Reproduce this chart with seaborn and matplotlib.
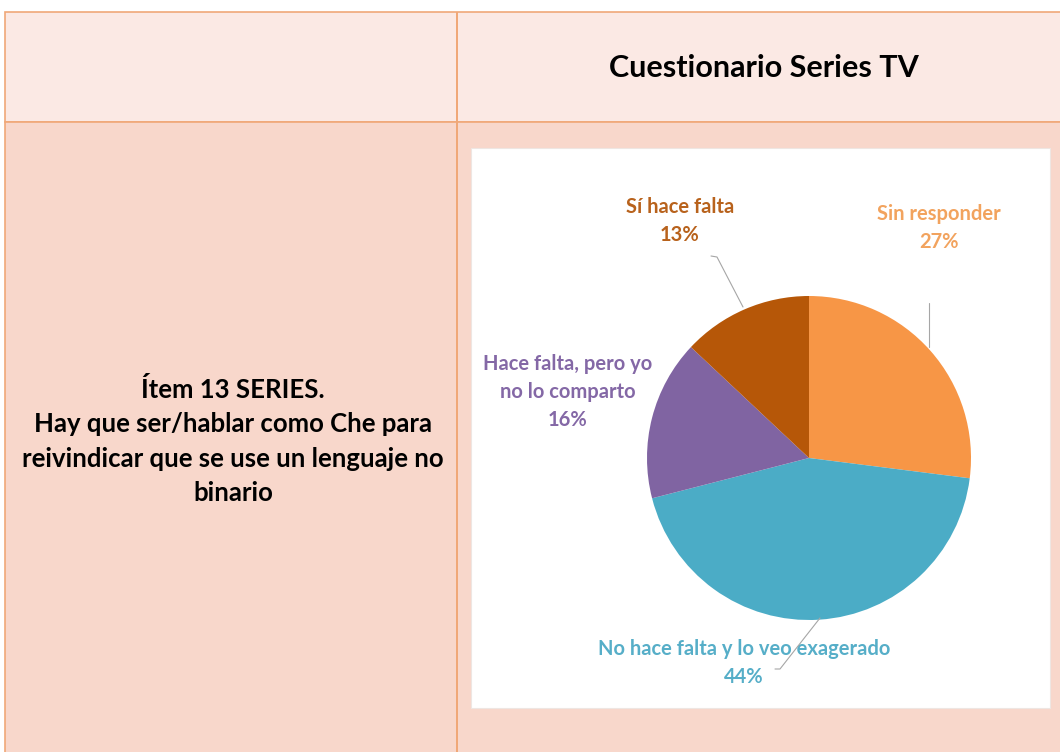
import matplotlib
matplotlib.use("Agg")
import matplotlib.pyplot as plt
from matplotlib.patches import Rectangle
import seaborn as sns

# ---- data ----
categories = ["Sin responder", "No hace falta y lo veo exagerado",
              "Hace falta, pero yo no lo comparto", "Sí hace falta"]
values = [27, 44, 16, 13]
label_lines = ["Sin responder", "No hace falta y lo veo exagerado",
               "Hace falta, pero yo\nno lo comparto", "Sí hace falta"]
title_text = "Cuestionario Series TV"
item_text = ("Ítem 13 SERIES.\nHay que ser/hablar como Che para\n"
             "reivindicar que se use un lenguaje no\nbinario")

# ---- styles ----
slice_colors = ["#F79646", "#4BACC6", "#8064A2", "#B65708"]
label_colors = ["#F2A35E", "#56AEC8", "#8468A6", "#B8621C"]
header_bg = "#FBE9E4"
body_bg = "#F8D7CB"
border = "#F0A878"

sns.set_style("white")
plt.rcParams["font.family"] = ["Lato", "DejaVu Sans"]

W, H = 1060, 752
fig = plt.figure(figsize=(W / 100, H / 100), dpi=100)
fig.patch.set_facecolor("white")

def prect(x0, y0, x1, y1, **kw):
    # pixel coords from top-left
    r = Rectangle((x0 / W, 1 - y1 / H), (x1 - x0) / W, (y1 - y0) / H,
                  transform=fig.transFigure, zorder=-10, **kw)
    fig.patches.append(r)

# table cells
prect(5, 12, 1062, 122, facecolor=header_bg, edgecolor=border, lw=1.2)
prect(5, 122, 1062, 760, facecolor=body_bg, edgecolor=border, lw=1.2)
prect(456.5, 12, 456.5, 760, facecolor="none", edgecolor=border, lw=1.2)
# white chart area
prect(471, 148, 1050, 708, facecolor="white", edgecolor="#EEE6E2", lw=0.8)

fig.text(764 / W, 1 - 68 / H, title_text, ha="center", va="center",
         fontsize=22, fontweight="bold", color="black")
fig.text(233 / W, 1 - 441 / H, item_text, ha="center", va="center",
         fontsize=18.5, fontweight="bold", color="black", linespacing=1.52)

# pie axes: center (809,458) px, radius 162 px
cx, cy, R = 809, 458, 162
half = 200
ax = fig.add_axes([(cx - half) / W, 1 - (cy + half) / H, 2 * half / W, 2 * half / H])
ax.patch.set_alpha(0)

ax.pie(values, colors=slice_colors, startangle=90, counterclock=False,
       radius=1.0, wedgeprops=dict(linewidth=0), frame=True)
ax.set_xlim(-half / R, half / R)
ax.set_ylim(-half / R, half / R)
ax.set_aspect("equal")
ax.set_axis_off()

def d(px, py):
    return ((px - cx) / R, (cy - py) / R)

label_pos = [d(939, 228), d(744, 663), d(568, 392), d(680, 221)]
for i, (lab, v) in enumerate(zip(label_lines, values)):
    ax.text(*label_pos[i], f"{lab}\n{v}%", ha="center", va="center",
            fontsize=14.5, fontweight="bold", color=label_colors[i],
            linespacing=1.5, clip_on=False)

leaders = [
    [d(929, 303), d(929, 347)],
    [d(775, 669), d(780, 669), d(820, 618)],
    [d(711, 256), d(717, 257), d(743, 307)],
]
for pts in leaders:
    xs, ys = zip(*pts)
    ax.plot(xs, ys, color="#A6A6A6", lw=0.8, clip_on=False, zorder=3)

fig.savefig("out.png", dpi=100, facecolor="white")
